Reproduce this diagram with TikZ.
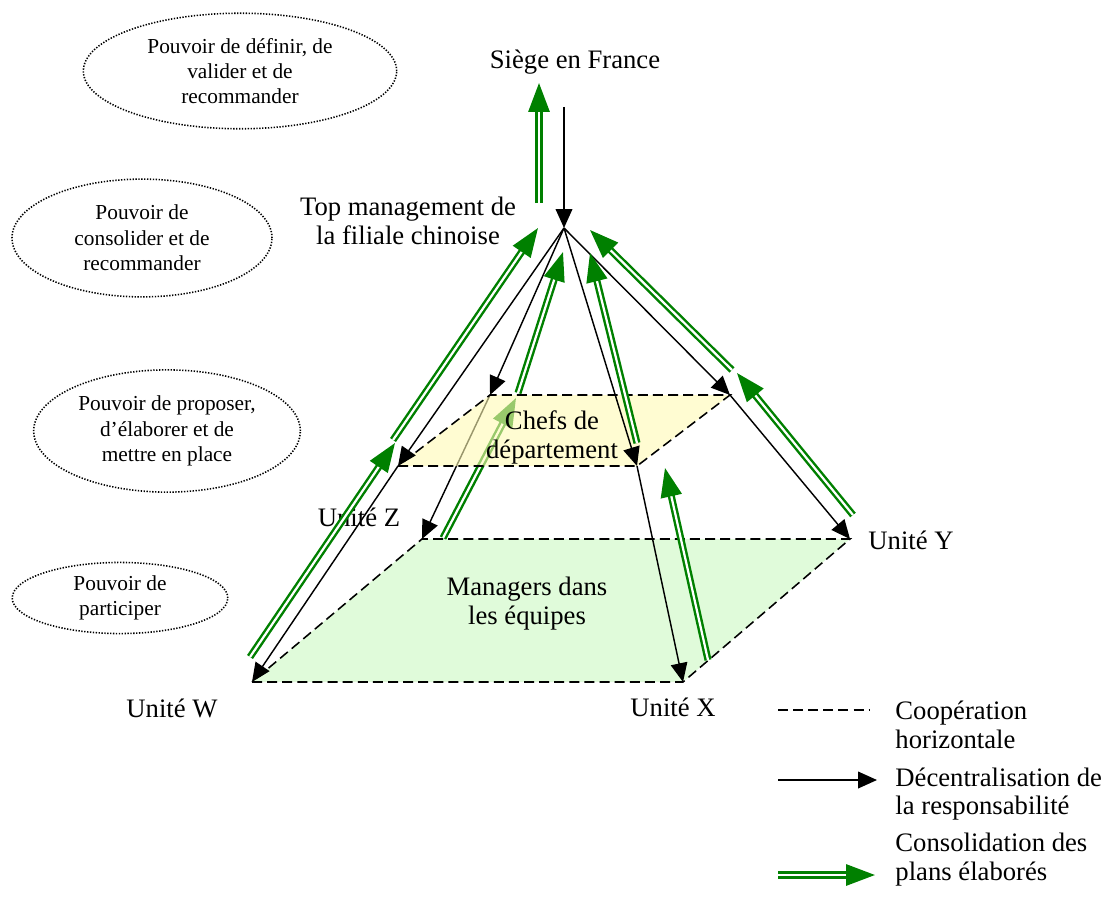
\documentclass[tikz,border=0pt]{standalone}
\usepackage{fontspec}
\setmainfont{Liberation Serif}
\usetikzlibrary{arrows.meta,shapes.geometric}
\definecolor{plan-green}{RGB}{0,128,0}
\definecolor{team-fill}{RGB}{224,251,218}
\definecolor{dept-fill}{RGB}{255,250,180}
\tikzset{
    power-ellipse/.style = {draw, ellipse, line width=0.7pt, dash pattern=on 0.6pt off 0.7pt, inner sep=0pt, align=center, font=\fontsize{9.6}{11.4}\selectfont},
    level-label/.style = {inner sep=0pt, align=center, font=\fontsize{12}{13}\selectfont},
    legend-label/.style = {level-label, anchor=west, align=left},
    resp-arrow/.style = {draw=black, line width=0.65pt, -{Triangle[length=8.5pt,width=7.5pt]}},
    cons-arrow/.style = {draw=plan-green, line width=1.1pt, double=white, double distance=1pt, -{Triangle[length=13pt,width=9.5pt]}},
    coop-line/.style = {draw=black, line width=0.7pt, dash pattern=on 4.5pt off 2.3pt},
}

\begin{document}
\begin{tikzpicture}[x=0.45pt, y=-0.45pt]
\useasboundingbox (0,0) rectangle (1109,896);

% corners of the two levels
\coordinate (apex) at (564,228);
\coordinate (dept-nw) at (490,395);
\coordinate (dept-ne) at (730,395);
\coordinate (dept-se) at (637,466);
\coordinate (dept-sw) at (398,466);
\coordinate (team-z) at (422,539);
\coordinate (team-y) at (850,539);
\coordinate (team-x) at (683,682);
\coordinate (team-w) at (252,682);

\draw[coop-line, fill=team-fill] (team-w) -- (team-x) -- (team-y) -- (team-z) -- cycle;

% lines seen through the upper level
\draw[resp-arrow] (dept-nw) -- (team-z);
\coordinate (cons-z1) at (443,538);
\coordinate (cons-z2) at (516,398);
\draw[cons-arrow] (cons-z1) -- (cons-z2);

\fill[dept-fill, fill opacity=0.6] (dept-sw) -- (dept-se) -- (dept-ne) -- (dept-nw) -- cycle;
\draw[coop-line] (dept-sw) -- (dept-se) -- (dept-ne) -- (dept-nw) -- cycle;

\node[level-label] (hq) at (575,62) {Siège en France};
\node[level-label] (top) at (408,221) {Top management de\\la filiale chinoise};
\node[level-label] (dept) at (552,437) {Chefs de\\département};
\node[level-label] (team) at (527,604) {Managers dans\\les équipes};
\node[level-label] (unit-z) at (359,517) {Unité Z};
\node[level-label] (unit-y) at (911,540) {Unité Y};
\node[level-label] (unit-w) at (172,708) {Unité W};
\node[level-label] (unit-x) at (673,707) {Unité X};

\node[power-ellipse, minimum width=141pt, minimum height=52pt] (p-define) at (240,71) {Pouvoir de définir, de\\valider et de\\recommander};
\node[power-ellipse, minimum width=117pt, minimum height=53pt] (p-consolidate) at (142,238) {Pouvoir de\\consolider et de\\recommander};
\node[power-ellipse, minimum width=120pt, minimum height=55pt] (p-propose) at (167,431) {Pouvoir de proposer,\\d’élaborer et de\\mettre en place};
\node[power-ellipse, minimum width=97pt, minimum height=32pt] (p-participate) at (120,598) {Pouvoir de\\participer};

% responsibility going down
\coordinate (hq-down) at (564,107);
\draw[resp-arrow] (hq-down) -- (apex);
\draw[resp-arrow] (apex) -- (dept-sw);
\draw[resp-arrow] (dept-sw) -- (team-w);
\draw[resp-arrow] (apex) -- (dept-nw);
\draw[resp-arrow] (apex) -- (dept-se);
\draw[resp-arrow] (dept-se) -- (team-x);
\draw[resp-arrow] (apex) -- (dept-ne);
\draw[resp-arrow] (dept-ne) -- (team-y);

% plans going up
\coordinate (cons-hq1) at (539,203);
\coordinate (cons-hq2) at (539,83);
\coordinate (cons-w1) at (250,657);
\coordinate (cons-w2) at (395,443);
\coordinate (cons-w3) at (393,440);
\coordinate (cons-w4) at (538,228);
\coordinate (cons-z3) at (518,393);
\coordinate (cons-z4) at (563,252);
\coordinate (cons-x1) at (708,660);
\coordinate (cons-x2) at (665,468);
\coordinate (cons-x3) at (637,443);
\coordinate (cons-x4) at (590,253);
\coordinate (cons-y1) at (853,515);
\coordinate (cons-y2) at (737,373);
\coordinate (cons-y3) at (732,370);
\coordinate (cons-y4) at (590,230);
\draw[cons-arrow] (cons-hq1) -- (cons-hq2);
\draw[cons-arrow] (cons-w1) -- (cons-w2);
\draw[cons-arrow] (cons-w3) -- (cons-w4);
\draw[cons-arrow] (cons-z3) -- (cons-z4);
\draw[cons-arrow] (cons-x1) -- (cons-x2);
\draw[cons-arrow] (cons-x3) -- (cons-x4);
\draw[cons-arrow] (cons-y1) -- (cons-y2);
\draw[cons-arrow] (cons-y3) -- (cons-y4);

% legend
\coordinate (coop-a) at (778,710);
\coordinate (coop-b) at (870,710);
\draw[coop-line] (coop-a) -- (coop-b);
\node[legend-label] (lg-coop) at (895,725) {Coopération\\horizontale};
\coordinate (resp-a) at (778,780);
\coordinate (resp-b) at (877,780);
\draw[resp-arrow] (resp-a) -- (resp-b);
\node[legend-label] (lg-resp) at (895,794) {Décentralisation de\\la responsabilité};
\coordinate (cons-a) at (778,875);
\coordinate (cons-b) at (875,875);
\draw[cons-arrow] (cons-a) -- (cons-b);
\node[legend-label] (lg-cons) at (895,860) {Consolidation des\\plans élaborés};
\end{tikzpicture}
\end{document}
